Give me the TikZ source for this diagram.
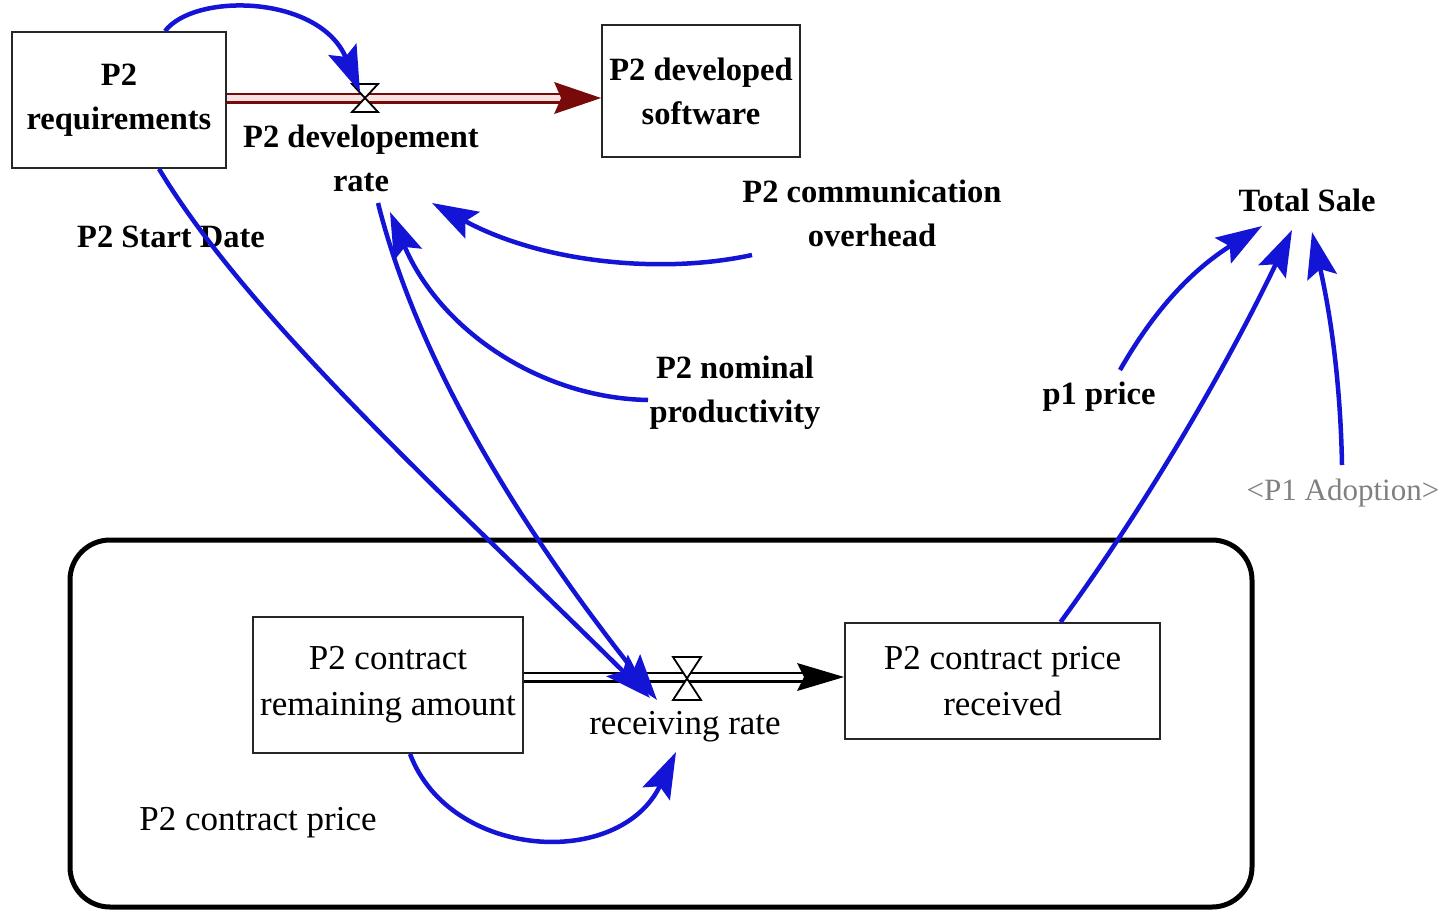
\documentclass[tikz,border=0pt]{standalone}
\usepackage{fontspec}
\setmainfont{Liberation Serif}
\usetikzlibrary{arrows.meta,calc}
\definecolor{lnkblue}{RGB}{20,20,215}
\definecolor{pipered}{RGB}{120,10,10}
\definecolor{pipepink}{RGB}{248,225,225}
\begin{document}
\begin{tikzpicture}[x=1pt,y=-1pt,
  bsf/.style={font=\fontsize{32.5}{44}\selectfont\bfseries, align=center, inner sep=0pt},
  rsf/.style={font=\fontsize{35}{46}\selectfont, align=center, inner sep=0pt},
  stockbox/.style={draw=black!85, line width=1.8pt},
  link/.style={draw=lnkblue, line width=4.5pt, -{Stealth[length=46pt,width=30pt,inset=8pt]}},
  pipe/.style={draw=#1, line width=2.5pt, double=pipepink, double distance=6pt},
  valve/.style={draw=black, line width=1.8pt, fill=white}]
\useasboundingbox (0,0) rectangle (1453,911);
\fill[white] (0,0) rectangle (1453,911);

% frame
\draw[line width=5pt, rounded corners=40pt] (70,540) rectangle (1252,907);

% stocks
\node[stockbox, bsf, minimum width=214pt, minimum height=136pt] (req) at (119,100) {P2\\requirements};
\node[stockbox, bsf, minimum width=198pt, minimum height=132pt] (dev) at (701,91) {P2 developed\\software};
\node[stockbox, rsf, minimum width=270pt, minimum height=136pt] (cra) at (388,685) {P2 contract\\remaining amount};
\node[stockbox, rsf, minimum width=315pt, minimum height=116pt] (cpr) at (1002.5,681) {P2 contract price\\received};

% variables
\node[bsf] (rate) at (361,158) {P2 developement\\rate};
\node[bsf] (start) at (171,237) {P2 Start Date};
\node[bsf] (comm) at (872,213) {P2 communication\\overhead};
\node[bsf] (total) at (1307,200) {Total Sale};
\node[bsf] (prod) at (735,393) {P2 nominal\\productivity};
\node[bsf] (p1) at (1099,397) {p1 price};
\node[rsf, text=black!50, font=\fontsize{31}{40}\selectfont] (adop) at (1343,493) {<P1 Adoption>};
\node[rsf] (rr) at (685,727) {receiving rate};
\node[rsf] (cp) at (258,823) {P2 contract price};

% valves
\coordinate (v1) at (365,98);
\coordinate (v2) at (687,677);

% top flow
\draw[pipe=pipered] (req.east |- v1) -- ($(dev.west |- v1)+(-40,0)$);
\fill[pipered] ($(dev.west|-v1)+(-47,-16)$) -- (dev.west|-v1) -- ($(dev.west|-v1)+(-47,16)$) -- ($(dev.west|-v1)+(-40,0)$) -- cycle;
\draw[valve] ($(v1)+(-13,-14)$) -- ($(v1)+(13,-14)$) -- ($(v1)+(-13,14)$) -- ($(v1)+(13,14)$) -- cycle;

% bottom flow
\draw[pipe=black, double=white] (cra.east |- v2) -- ($(cpr.west |- v2)+(-40,0)$);
\fill[black] ($(cpr.west|-v2)+(-47,-14)$) -- (cpr.west|-v2) -- ($(cpr.west|-v2)+(-47,14)$) -- ($(cpr.west|-v2)+(-40,0)$) -- cycle;
\draw[valve] ($(v2)+(-14,-20)$) -- ($(v2)+(14,-20)$) -- ($(v2)+(-14,23)$) -- ($(v2)+(14,23)$) -- cycle;

% links
\draw[link] ([xshift=46pt]req.north) .. controls (195,-8) and (320,-5) .. ([shift={(-5,-6)}]v1);
\draw[link] ([xshift=40pt]req.south) .. controls (250,320) and (450,500) .. ([shift={(-37,21)}]v2);
\draw[link] ([shift={(17,45)}]rate.center) .. controls (420,370) and (530,540) .. ([shift={(-30,23)}]v2);
\draw[link] ([shift={(-120,42)}]comm.center) .. controls (660,275) and (540,262) .. ([shift={(71,45)}]rate.center);
\draw[link] ([shift={(-87,7)}]prod.center) .. controls (540,398) and (440,330) .. ([shift={(29,54)}]rate.center);
\draw[link] ([xshift=22pt]cra.south) .. controls (450,860) and (620,870) .. ([shift={(-9,25)}]rr.center);
\draw[link] ([xshift=58pt]cpr.north) .. controls (1150,500) and (1230,360) .. ([shift={(-15,30)}]total.center);
\draw[link] ([shift={(21,-27)}]p1.center) .. controls (1160,300) and (1200,265) .. ([shift={(-45,26)}]total.center);
\draw[link] ([shift={(-1,-28)}]adop.center) .. controls (1340,360) and (1325,290) .. ([shift={(5,32)}]total.center);
\end{tikzpicture}
\end{document}
